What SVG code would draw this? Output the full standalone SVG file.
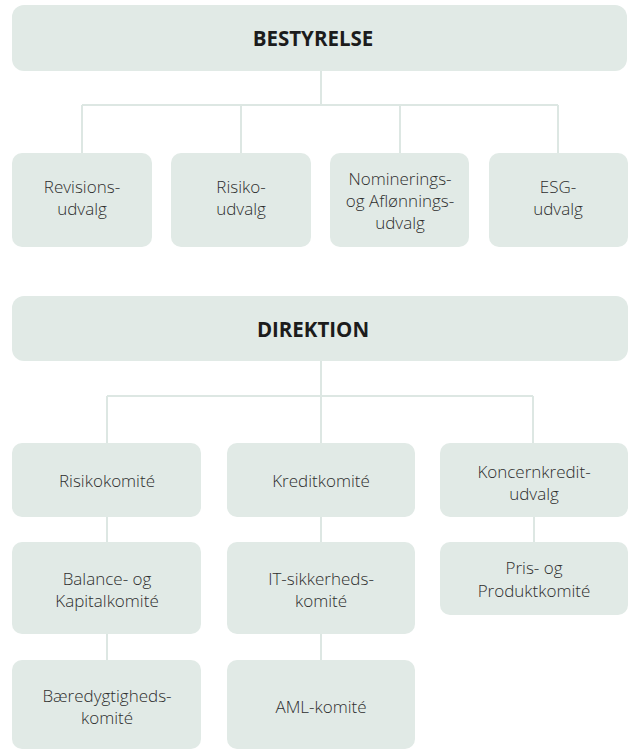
<svg xmlns="http://www.w3.org/2000/svg" width="629" height="751" viewBox="0 0 629 751">
<style>
.box{fill:#e1eae6}
.conn{fill:none;stroke:#dde7e3;stroke-width:2}
.t{font-family:"Open Sans","Noto Sans",sans-serif;font-size:17px;font-weight:300;fill:#2e2e2e;text-anchor:middle}
.h{font-family:"Open Sans","Noto Sans",sans-serif;font-size:20.5px;font-weight:bold;fill:#1c1c1c;text-anchor:middle}
</style>
<rect width="629" height="751" fill="#ffffff"/>
<g id="connectors">
<path class="conn" d="M321,71V105M82,105H558M82,105V153M241,105V153M400,105V153M558,105V153"/>
<path class="conn" d="M321,361V396M107,396H533M107,396V443M321,396V443M533,396V443"/>
<path class="conn" d="M107,517V542M321,517V542M534,517V542M107,634V660M321,634V660"/>
</g>
<g id="bestyrelse"><rect class="box" x="12" y="5" width="615" height="66" rx="12"/><text class="h" x="313" y="46">BESTYRELSE</text></g>
<g id="revisionsudvalg"><rect class="box" x="12" y="153" width="140" height="94" rx="10"/><text class="t" x="82" y="193">Revisions-</text><text class="t" x="82" y="215">udvalg</text></g>
<g id="risikoudvalg"><rect class="box" x="171" y="153" width="140" height="94" rx="10"/><text class="t" x="241" y="193">Risiko-</text><text class="t" x="241" y="215">udvalg</text></g>
<g id="nomineringsudvalg"><rect class="box" x="330" y="153" width="139" height="94" rx="10"/><text class="t" x="400" y="185">Nominerings-</text><text class="t" x="400" y="207">og Aflønnings-</text><text class="t" x="400" y="229">udvalg</text></g>
<g id="esgudvalg"><rect class="box" x="489" y="153" width="139" height="94" rx="10"/><text class="t" x="558" y="193">ESG-</text><text class="t" x="558" y="215">udvalg</text></g>
<g id="direktion"><rect class="box" x="12" y="296" width="616" height="65" rx="12"/><text class="h" x="313" y="337">DIREKTION</text></g>
<g id="risikokomite"><rect class="box" x="12" y="443" width="189" height="74" rx="10"/><text class="t" x="107" y="487">Risikokomité</text></g>
<g id="kreditkomite"><rect class="box" x="227" y="443" width="188" height="74" rx="10"/><text class="t" x="321" y="487">Kreditkomité</text></g>
<g id="koncernkreditudvalg"><rect class="box" x="440" y="443" width="188" height="74" rx="10"/><text class="t" x="534" y="478">Koncernkredit-</text><text class="t" x="534" y="500">udvalg</text></g>
<g id="balancekomite"><rect class="box" x="12" y="542" width="189" height="92" rx="10"/><text class="t" x="107" y="585">Balance- og</text><text class="t" x="107" y="607">Kapitalkomité</text></g>
<g id="itsikkerhedskomite"><rect class="box" x="227" y="542" width="188" height="92" rx="10"/><text class="t" x="321" y="585">IT-sikkerheds-</text><text class="t" x="321" y="607">komité</text></g>
<g id="prisogproduktkomite"><rect class="box" x="440" y="542" width="188" height="73" rx="10"/><text class="t" x="534" y="574">Pris- og</text><text class="t" x="534" y="597">Produktkomité</text></g>
<g id="baeredygtighedskomite"><rect class="box" x="12" y="660" width="189" height="89" rx="10"/><text class="t" x="107" y="702">Bæredygtigheds-</text><text class="t" x="107" y="724">komité</text></g>
<g id="amlkomite"><rect class="box" x="227" y="660" width="188" height="89" rx="10"/><text class="t" x="321" y="713">AML-komité</text></g>
</svg>
